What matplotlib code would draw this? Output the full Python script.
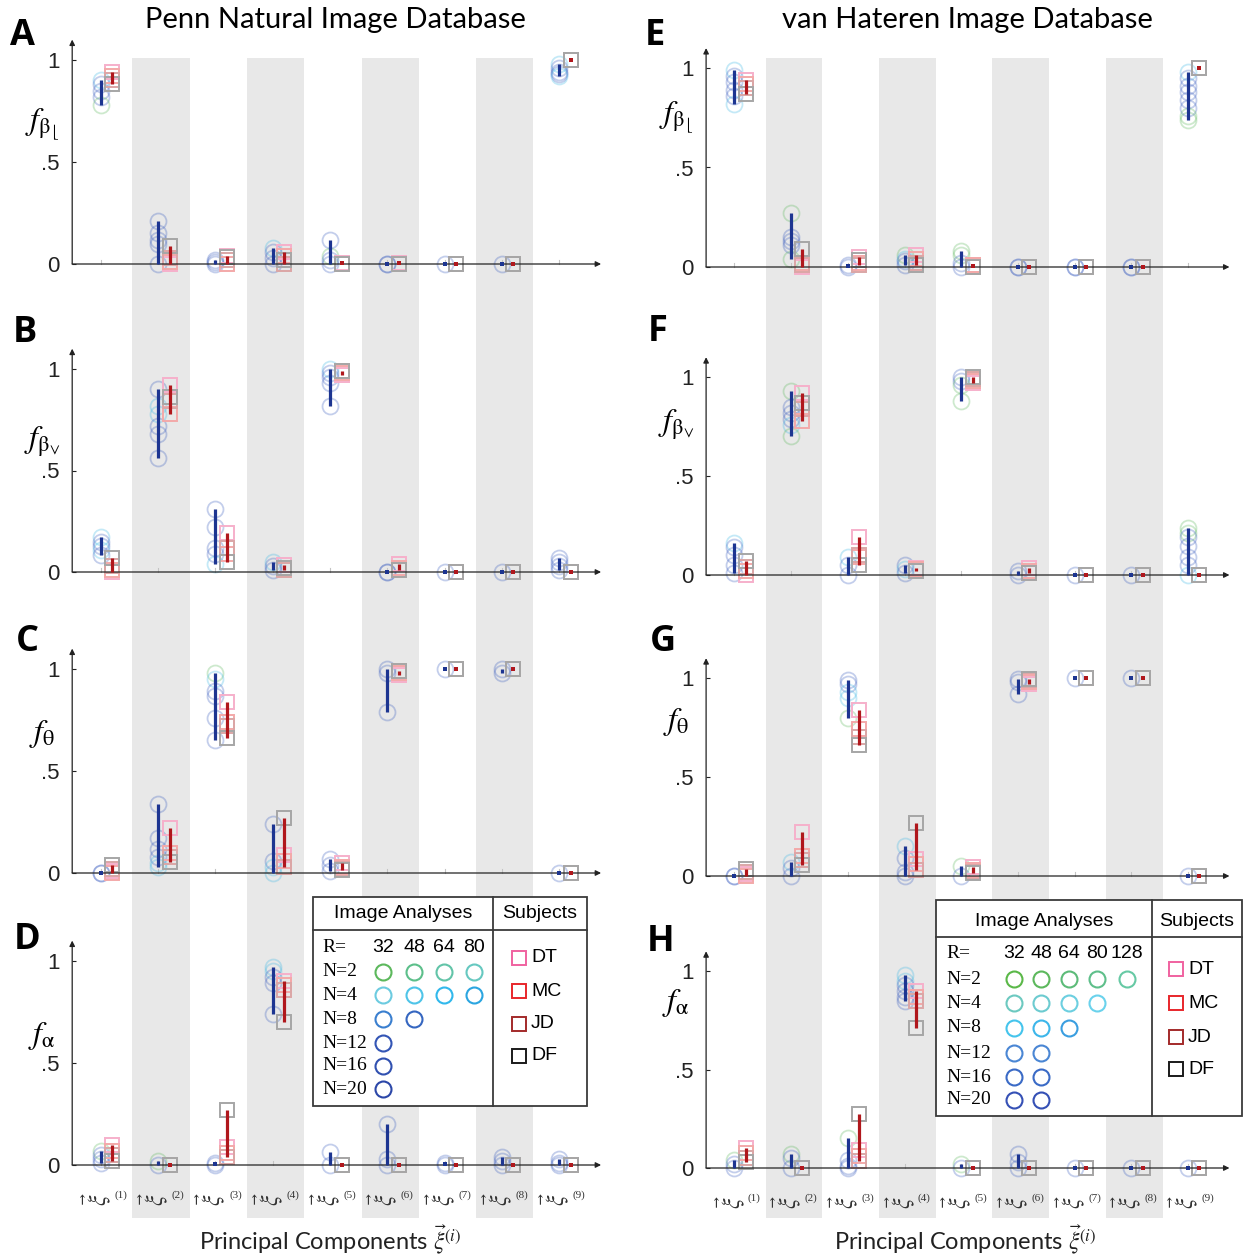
import matplotlib.pyplot as plt
from matplotlib.patches import Rectangle

plt.rcParams['mathtext.fontset'] = 'stix'
plt.rcParams['font.family'] = 'Liberation Sans'

W, H = 1245, 1256
fig = plt.figure(figsize=(W / 100, H / 100), dpi=100)

# ---- data -------------------------------------------------------------
components = list(range(1, 10))
subjects = ['DT', 'MC', 'JD', 'DF']
N_values = [2, 4, 8, 12, 16, 20]
penn_R = [32, 48, 64, 80]
penn_counts = [4, 4, 2, 1, 1, 1]
vh_R = [32, 48, 64, 80, 128]
vh_counts = [5, 4, 3, 2, 2, 2]

# image-analysis values per component (group code: g N=2, c N=4, b N>=8)
A_circles = [[0.90, 0.88, 0.85, 0.82, 0.78], [0.21, 0.15, 0.12, 0.10, 0.0], [0.02, 0.01, 0.0],
             [0.08, 0.06, 0.03, 0.0], [0.12, 0.04, 0.02, 0.0], [0.0, 0.0], [0.0], [0.0],
             [0.98, 0.96, 0.94, 0.93, 0.92]]
A_groups = ['cbbbg', '', '', 'c', 'bg', '', '', '', 'cbbbc']
A_squares = [[0.94, 0.92, 0.90, 0.88], [0.0, 0.01, 0.03, 0.09], [0.04, 0.0, 0.02, 0.035],
             [0.06, 0.04, 0.0, 0.02], [0.005, 0.0, 0.0, 0.0], [0.005, 0.0, 0.0, 0.0],
             [0.0, 0.0, 0.0, 0.0], [0.0, 0.0, 0.0, 0.0], [1.0, 1.0, 1.0, 1.0]]

B_circles = [[0.17, 0.15, 0.13, 0.11, 0.085], [0.90, 0.82, 0.78, 0.72, 0.68, 0.56],
             [0.31, 0.22, 0.12, 0.09, 0.04], [0.05, 0.03, 0.01], [1.0, 0.98, 0.96, 0.93, 0.82],
             [0.0, 0.0], [0.0], [0.0], [0.07, 0.05, 0.03, 0.01]]
B_groups = ['cbbc', 'bcc', 'bbbbc', 'c', 'c', '', '', '', '']
B_squares = [[0.0, 0.01, 0.03, 0.07], [0.92, 0.78, 0.84, 0.86], [0.19, 0.09, 0.12, 0.05],
             [0.035, 0.02, 0.01, 0.02], [0.97, 0.98, 0.99, 0.99], [0.04, 0.02, 0.01, 0.01],
             [0.0, 0.0, 0.0, 0.0], [0.0, 0.0, 0.0, 0.0], [0.0, 0.0, 0.0, 0.0]]

C_circles = [[0.0, 0.0], [0.34, 0.17, 0.12, 0.08, 0.05, 0.03], [0.98, 0.95, 0.89, 0.87, 0.76, 0.65],
             [0.24, 0.06, 0.03, 0.0], [0.07, 0.04, 0.01], [1.0, 0.98, 0.79], [1.0], [1.0, 0.98],
             [0.0]]
C_groups = ['', 'bbbbcc', 'gc', 'bbcc', '', '', '', '', '']
C_squares = [[0.01, 0.0, 0.02, 0.04], [0.22, 0.10, 0.08, 0.055], [0.84, 0.74, 0.72, 0.66],
             [0.09, 0.06, 0.03, 0.27], [0.05, 0.03, 0.02, 0.015], [0.97, 0.98, 0.99, 0.99],
             [1.0, 1.0, 1.0, 1.0], [1.0, 1.0, 1.0, 1.0], [0.0, 0.0, 0.0, 0.0]]

D_circles = [[0.07, 0.05, 0.03, 0.01], [0.02, 0.0], [0.01, 0.0], [0.97, 0.95, 0.92, 0.89, 0.74],
             [0.065, 0.0], [0.20, 0.03, 0.0], [0.01, 0.0], [0.04, 0.02, 0.0], [0.03, 0.01, 0.0]]
D_groups = ['g', 'g', '', 'cc', '', '', '', '', '']
D_squares = [[0.10, 0.07, 0.05, 0.02], [0.0, 0.0, 0.0, 0.0], [0.09, 0.06, 0.04, 0.27],
             [0.90, 0.88, 0.86, 0.70], [0.0, 0.0, 0.0, 0.0], [0.0, 0.0, 0.0, 0.0],
             [0.0, 0.0, 0.0, 0.0], [0.0, 0.0, 0.0, 0.0], [0.0, 0.0, 0.0, 0.0]]

E_circles = [[0.99, 0.96, 0.93, 0.89, 0.86, 0.82], [0.27, 0.15, 0.13, 0.11, 0.04], [0.01, 0.0],
             [0.06, 0.04, 0.03, 0.01], [0.08, 0.06, 0.02, 0.0], [0.0, 0.0], [0.0, 0.0], [0.0, 0.0],
             [0.98, 0.95, 0.91, 0.88, 0.84, 0.80, 0.76, 0.74]]
E_groups = ['cbbbbc', 'gbbbg', '', 'gc', 'gg', '', '', '', 'cbbbbbgg']
E_squares = [[0.94, 0.92, 0.90, 0.87], [0.0, 0.02, 0.01, 0.09], [0.05, 0.02, 0.01, 0.035],
             [0.06, 0.04, 0.02, 0.01], [0.01, 0.01, 0.0, 0.0], [0.0, 0.0, 0.0, 0.0],
             [0.0, 0.0, 0.0, 0.0], [0.0, 0.0, 0.0, 0.0], [1.0, 1.0, 1.0, 1.0]]

F_circles = [[0.16, 0.14, 0.10, 0.05, 0.01], [0.93, 0.85, 0.82, 0.79, 0.76, 0.70], [0.09, 0.05, 0.0],
             [0.05, 0.03, 0.01], [1.0, 0.98, 0.96, 0.88], [0.02, 0.0], [0.0], [0.0],
             [0.235, 0.21, 0.19, 0.145, 0.09, 0.05, 0.0]]
F_groups = ['c', 'gbbbcg', 'c', 'bc', 'bbgg', '', '', '', 'ggbbbbc']
F_squares = [[0.0, 0.02, 0.04, 0.07], [0.92, 0.78, 0.84, 0.87], [0.19, 0.09, 0.10, 0.05],
             [0.035, 0.03, 0.02, 0.02], [0.97, 0.98, 0.99, 1.0], [0.035, 0.02, 0.01, 0.01],
             [0.0, 0.0, 0.0, 0.0], [0.0, 0.0, 0.0, 0.0], [0.0, 0.0, 0.0, 0.0]]

G_circles = [[0.0, 0.0], [0.07, 0.04, 0.0], [0.99, 0.97, 0.93, 0.90, 0.80], [0.15, 0.09, 0.02, 0.0],
             [0.05, 0.0], [0.995, 0.98, 0.92], [1.0], [1.0], [0.0]]
G_groups = ['', 'c', 'bbccg', 'c', 'g', '', '', '', '']
G_squares = [[0.01, 0.0, 0.02, 0.035], [0.22, 0.10, 0.08, 0.055], [0.84, 0.74, 0.70, 0.66],
             [0.085, 0.06, 0.03, 0.27], [0.045, 0.03, 0.02, 0.015], [0.97, 0.98, 0.99, 0.995],
             [1.0, 1.0, 1.0, 1.0], [1.0, 1.0, 1.0, 1.0], [0.0, 0.0, 0.0, 0.0]]

H_circles = [[0.04, 0.02, 0.0], [0.07, 0.05, 0.0], [0.15, 0.04, 0.01, 0.0],
             [0.98, 0.95, 0.93, 0.90, 0.87, 0.85], [0.02, 0.0], [0.07, 0.03, 0.0], [0.0], [0.0],
             [0.0]]
H_groups = ['g', 'g', 'g', 'cc', 'g', '', '', '', '']
H_squares = [[0.10, 0.075, 0.05, 0.03], [0.0, 0.0, 0.0, 0.0], [0.09, 0.06, 0.035, 0.275],
             [0.90, 0.87, 0.85, 0.71], [0.0, 0.0, 0.0, 0.0], [0.0, 0.0, 0.0, 0.0],
             [0.0, 0.0, 0.0, 0.0], [0.0, 0.0, 0.0, 0.0], [0.0, 0.0, 0.0, 0.0]]

# ---- style ------------------------------------------------------------
BLUE = '#1d3591'
RED = '#b0171c'
AXIS = '#222222'
BAND = '#e8e8e8'
circle_colors = {'g': '#5cb85c', 'c': '#3db8e5', 'b': '#3a5dc0'}
subject_colors = {'DT': '#f062a0', 'MC': '#e8262b', 'JD': '#a32a2a', 'DF': '#1a1a1a'}
# washed-out versions used inside the panels (drawn opaque, DF last)
subject_faded = {'DT': '#f6b0cb', 'MC': '#f3a9a9', 'JD': '#dba6a6', 'DF': '#a6a6a6'}
penn_key_colors = [['#5cb85c', '#5cbf8a', '#62c4a8', '#66c8c0'],
                   ['#6ccbe0', '#4ec4e8', '#30b8ec', '#2aa5e0'],
                   ['#3a7fcf', '#3566c0'], ['#3355b5'], ['#3050b0'], ['#2c47a8']]
vh_key_colors = [['#5ab848', '#5cb85c', '#5cbb78', '#5ebf8a', '#66c9a4'],
                 ['#6cc9c0', '#6ccbd0', '#6ccfe0', '#6ad2ec'],
                 ['#44c4ec', '#3cb6ea', '#3a9ee0'],
                 ['#4a86d4', '#4a86d4'], ['#3a6ac6', '#3a6ac6'], ['#3550b5', '#3550b5']]

XLIM = (0.45, 9.7)
YLIM = (-0.1, 1.12)
DC, DS = -0.05, 0.15
columns = {'left': (72.2, 57.3), 'right': (706.1, 56.7)}


def rect_for(col, top_px, bottom_px):
    x0, ppu = columns[col]
    w = (XLIM[1] - XLIM[0]) * ppu
    return [x0 / W, 1 - bottom_px / H, w / W, (bottom_px - top_px) / H]


# shaded bands behind every other component, running through all panels
for col in columns:
    bg = fig.add_axes(rect_for(col, 58, 1218), zorder=0)
    bg.set_xlim(*XLIM)
    bg.set_ylim(0, 1)
    bg.axis('off')
    for c in components[1::2]:
        bg.axvspan(c - 0.5, c + 0.5, color=BAND, lw=0)


def draw_panel(col, zero_px, unit_px, circles, groups, squares, ylabel, label_y,
               bottom=False):
    top = zero_px - YLIM[1] * unit_px
    bot = zero_px - YLIM[0] * unit_px
    ax = fig.add_axes(rect_for(col, top, bot), zorder=1)
    ax.patch.set_alpha(0)
    ax.set_xlim(*XLIM)
    ax.set_ylim(*YLIM)
    for s in ax.spines.values():
        s.set_visible(False)
    ax.set_xticks([])
    ax.set_yticks([0, 0.5, 1])
    ax.set_yticklabels(['0', '.5', '1'])
    ax.tick_params(axis='y', direction='in', length=3, width=0.8, color=AXIS,
                   pad=9, labelsize=16, labelcolor='#222222')

    for c, vals, grp, sq in zip(components, circles, groups, squares):
        grp = grp.ljust(len(vals), 'b')
        xc, xs = c + DC, c + DS
        ax.plot([xc, xc], [0, 0.022], color='#c4c4c4', lw=0.8, zorder=1)
        for v, g in zip(vals, grp):
            ax.plot(xc, v, 'o', ms=11.5, mfc='none', mec=circle_colors[g], mew=1.3,
                    alpha=0.3, clip_on=False, zorder=2)
        for v, s in zip(sq, subjects):
            ax.plot(xs, v, 's', ms=10, mfc='none', mec=subject_faded[s], mew=1.4,
                    clip_on=False, zorder=2)
        for x, lo, hi, color in ((xc, min(vals), max(vals), BLUE),
                                 (xs, min(sq), max(sq), RED)):
            if hi - lo < 0.012:
                ax.plot(x, (lo + hi) / 2, 's', ms=2.4, color=color, mew=0, zorder=4)
            else:
                ax.plot([x, x], [lo, hi], color=color, lw=2.3,
                        solid_capstyle='butt', zorder=4)

    arrow = dict(arrowstyle='-|>', color=AXIS, lw=0.9, mutation_scale=8,
                 shrinkA=0, shrinkB=0)
    ax.annotate('', xy=(XLIM[1] - 0.02, 0), xytext=(XLIM[0], 0), arrowprops=arrow,
                annotation_clip=False)
    ax.annotate('', xy=(XLIM[0], 1.1), xytext=(XLIM[0], 0), arrowprops=arrow,
                annotation_clip=False)

    x0, ppu = columns[col]
    lx = XLIM[0] - 30 / ppu
    ax.text(lx, label_y, ylabel, fontsize=23, ha='center', va='center')

    if bottom:
        yl = -34 / unit_px
        for c in components:
            ax.text(c - 0.12, yl, r'$\vec{\xi}$', rotation=90, fontsize=17,
                    ha='center', va='center', color='#333333')
            ax.text(c + 0.3, yl + 4 / unit_px, '(%d)' % c, fontsize=8,
                    family='Liberation Serif', ha='center', va='center',
                    color='#333333')
    return ax


lab_bl = r'$f_{\mathrm{\beta}_{\lfloor}}$'
lab_bv = r'$f_{\mathrm{\beta}_{\vee}}$'
lab_th = r'$f_{\mathrm{\theta}}$'
lab_al = r'$f_{\mathrm{\alpha}}$'

draw_panel('left', 264, 204, A_circles, A_groups, A_squares, lab_bl, 0.68)
draw_panel('left', 572, 203, B_circles, B_groups, B_squares, lab_bv, 0.64)
draw_panel('left', 873, 204, C_circles, C_groups, C_squares, lab_th, 0.68)
draw_panel('left', 1165, 204, D_circles, D_groups, D_squares, lab_al, 0.63, bottom=True)
draw_panel('right', 267, 199, E_circles, E_groups, E_squares, lab_bl, 0.75)
draw_panel('right', 575, 198, F_circles, F_groups, F_squares, lab_bv, 0.76)
draw_panel('right', 876, 198, G_circles, G_groups, G_squares, lab_th, 0.78)
draw_panel('right', 1168, 197, H_circles, H_groups, H_squares, lab_al, 0.84, bottom=True)

# ---- overlay in pixel coordinates: titles, letters, keys ---------------
ov = fig.add_axes([0, 0, 1, 1], zorder=5)
ov.set_xlim(0, W)
ov.set_ylim(H, 0)
ov.axis('off')

ov.text(335, 20, 'Penn Natural Image Database', fontsize=21, family='Lato',
        ha='center', va='center')
ov.text(967, 20, 'van Hateren Image Database', fontsize=21, family='Lato',
        ha='center', va='center')
for x in (330, 965):
    ov.text(x, 1240, r'Principal Components $\vec{\xi}^{(i)}$', fontsize=17,
            family='Lato', ha='center', va='center', color='#222222')

letters = ['A', 'B', 'C', 'D', 'E', 'F', 'G', 'H']
letter_xy = [(22, 36), (25, 333), (27, 642), (27, 940),
             (655, 36), (658, 332), (663, 642), (661, 942)]
for t, (x, y) in zip(letters, letter_xy):
    ov.text(x, y, t, fontsize=26, family='Open Sans', weight='bold',
            ha='center', va='center')


def draw_key(box, vdiv, hdiv, head_y, r_x, r_y, R_vals, xs, row_ys, counts, colors,
             sq_x, sq_ys):
    x0, y0, x1, y1 = box
    ov.add_patch(Rectangle((x0, y0), x1 - x0, y1 - y0, fc='white', ec='#3a3a3a', lw=1.3))
    ov.plot([vdiv, vdiv], [y0, y1], color='#3a3a3a', lw=1.3)
    ov.plot([x0, x1], [hdiv, hdiv], color='#3a3a3a', lw=1.3)
    ov.text((x0 + vdiv) / 2, head_y, 'Image Analyses', fontsize=14,
            ha='center', va='center')
    ov.text((vdiv + x1) / 2, head_y, 'Subjects', fontsize=14, ha='center', va='center')
    ov.text(r_x, r_y, 'R=', fontsize=14, family='Liberation Serif', ha='left',
            va='center')
    for x, r in zip(xs, R_vals):
        ov.text(x, r_y, str(r), fontsize=14, ha='center', va='center')
    for n, y, k, cols in zip(N_values, row_ys, counts, colors):
        ov.text(r_x, y, 'N=%d' % n, fontsize=14, family='Liberation Serif',
                ha='left', va='center')
        for x, c in zip(xs[:k], cols):
            ov.plot(x, y, 'o', ms=11.5, mfc='none', mec=c, mew=1.5)
    for s, y in zip(subjects, sq_ys):
        ov.plot(sq_x, y, 's', ms=10.5, mfc='none', mec=subject_colors[s], mew=1.4)
        ov.text(sq_x + 12, y, s, fontsize=14, ha='left', va='center')


draw_key((313, 897, 587, 1106), 493, 930, 914, 322, 947, penn_R,
         [383, 414, 444, 474], [972, 995, 1019, 1043, 1066, 1089], penn_counts,
         penn_key_colors, 519, [958, 991, 1024, 1056])
draw_key((936, 900, 1242, 1116), 1152, 937, 921, 946, 954, vh_R,
         [1014, 1041, 1069, 1097, 1127], [979, 1003, 1028, 1053, 1077, 1100], vh_counts,
         vh_key_colors, 1176, [969, 1003, 1037, 1069])

fig.savefig('out.png', dpi=100)
